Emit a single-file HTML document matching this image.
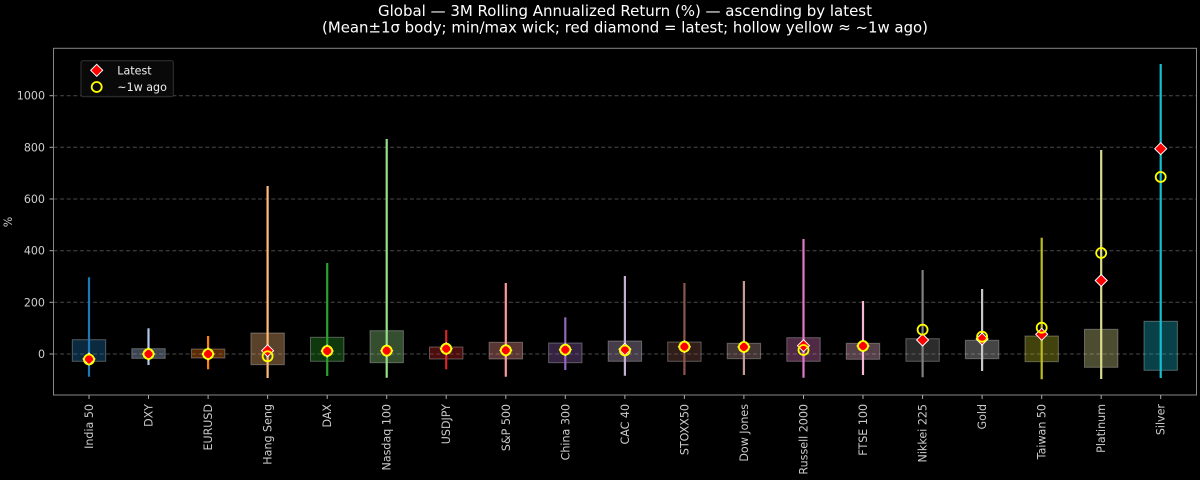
<!DOCTYPE html>
<html><head><meta charset="utf-8"><style>
html,body{margin:0;padding:0;background:#000;}
svg{display:block;}
text{font-family:"DejaVu Sans","Liberation Sans",sans-serif;}
</style></head><body>
<svg width="1200" height="480" viewBox="0 0 1200 480" xmlns="http://www.w3.org/2000/svg">
<rect width="1200" height="480" fill="#000"/>
<!-- title -->
<text x="625" y="16" text-anchor="middle" font-size="15.5" fill="#fff" textLength="494" lengthAdjust="spacingAndGlyphs">Global — 3M Rolling Annualized Return (%) — ascending by latest</text>
<text x="625" y="32.5" text-anchor="middle" font-size="15.5" fill="#fff" textLength="606" lengthAdjust="spacingAndGlyphs">(Mean±1σ body; min/max wick; red diamond = latest; hollow yellow ≈ ~1w ago)</text>
<!-- grid -->
<g stroke="#4a4a4a" stroke-width="1" stroke-dasharray="4,2.6">
<line x1="53.5" x2="1196.5" y1="354" y2="354"/>
<line x1="53.5" x2="1196.5" y1="302.3" y2="302.3"/>
<line x1="53.5" x2="1196.5" y1="250.7" y2="250.7"/>
<line x1="53.5" x2="1196.5" y1="199" y2="199"/>
<line x1="53.5" x2="1196.5" y1="147.3" y2="147.3"/>
<line x1="53.5" x2="1196.5" y1="95.7" y2="95.7"/>
</g>
<!-- y ticks -->
<g stroke="#aaa" stroke-width="1">
<line x1="49.5" x2="53.5" y1="354" y2="354"/>
<line x1="49.5" x2="53.5" y1="302.3" y2="302.3"/>
<line x1="49.5" x2="53.5" y1="250.7" y2="250.7"/>
<line x1="49.5" x2="53.5" y1="199" y2="199"/>
<line x1="49.5" x2="53.5" y1="147.3" y2="147.3"/>
<line x1="49.5" x2="53.5" y1="95.7" y2="95.7"/>
</g>
<g font-size="11.1" fill="#ccc" text-anchor="end">
<text x="45" y="358">0</text>
<text x="45" y="306.3">200</text>
<text x="45" y="254.7">400</text>
<text x="45" y="203">600</text>
<text x="45" y="151.3">800</text>
<text x="45" y="99.7">1000</text>
</g>
<text transform="translate(12,222) rotate(-90)" font-size="11.1" fill="#ccc" text-anchor="middle">%</text>

<!-- boxes -->
<g stroke="rgba(255,255,255,0.3)" stroke-width="1">
<rect x="72.3" y="339.7" width="33.4" height="21.6" fill="#1f77b4" fill-opacity="0.35"/>
<rect x="131.8" y="348.7" width="33.4" height="9.6" fill="#aec7e8" fill-opacity="0.35"/>
<rect x="191.4" y="349" width="33.4" height="9" fill="#ff7f0e" fill-opacity="0.35"/>
<rect x="250.9" y="333" width="33.4" height="31.7" fill="#ffbb78" fill-opacity="0.35"/>
<rect x="310.5" y="337.3" width="33.4" height="24" fill="#2ca02c" fill-opacity="0.35"/>
<rect x="370" y="330.7" width="33.4" height="32" fill="#98df8a" fill-opacity="0.35"/>
<rect x="429.5" y="347" width="33.4" height="12" fill="#d62728" fill-opacity="0.35"/>
<rect x="489.1" y="342.3" width="33.4" height="16.7" fill="#ff9896" fill-opacity="0.35"/>
<rect x="548.6" y="343" width="33.4" height="19.7" fill="#9467bd" fill-opacity="0.35"/>
<rect x="608.2" y="341" width="33.4" height="20.3" fill="#c5b0d5" fill-opacity="0.35"/>
<rect x="667.7" y="342" width="33.4" height="19.3" fill="#8c564b" fill-opacity="0.35"/>
<rect x="727.2" y="343.3" width="33.4" height="15.4" fill="#c49c94" fill-opacity="0.35"/>
<rect x="786.8" y="337.7" width="33.4" height="23.6" fill="#e377c2" fill-opacity="0.35"/>
<rect x="846.3" y="343.3" width="33.4" height="16" fill="#f7b6d2" fill-opacity="0.35"/>
<rect x="905.9" y="338.7" width="33.4" height="22.6" fill="#7f7f7f" fill-opacity="0.35"/>
<rect x="965.4" y="340.3" width="33.4" height="18.4" fill="#c7c7c7" fill-opacity="0.35"/>
<rect x="1025" y="336" width="33.4" height="25.7" fill="#bcbd22" fill-opacity="0.35"/>
<rect x="1084.5" y="329.3" width="33.4" height="38" fill="#dbdb8d" fill-opacity="0.35"/>
<rect x="1144" y="321.3" width="33.4" height="49" fill="#17becf" fill-opacity="0.35"/>
</g>
<!-- wicks -->
<g stroke-width="2.2">
<line x1="89" x2="89" y1="277.3" y2="376.7" stroke="#1f77b4"/>
<line x1="148.5" x2="148.5" y1="328.3" y2="365" stroke="#aec7e8"/>
<line x1="208.1" x2="208.1" y1="336" y2="369.3" stroke="#ff7f0e"/>
<line x1="267.6" x2="267.6" y1="186" y2="378" stroke="#ffbb78"/>
<line x1="327.2" x2="327.2" y1="263" y2="376" stroke="#2ca02c"/>
<line x1="386.7" x2="386.7" y1="139" y2="377.7" stroke="#98df8a"/>
<line x1="446.2" x2="446.2" y1="330" y2="369.3" stroke="#d62728"/>
<line x1="505.8" x2="505.8" y1="283" y2="376.7" stroke="#ff9896"/>
<line x1="565.3" x2="565.3" y1="317.3" y2="370" stroke="#9467bd"/>
<line x1="624.9" x2="624.9" y1="276" y2="375.7" stroke="#c5b0d5"/>
<line x1="684.4" x2="684.4" y1="283" y2="375" stroke="#8c564b"/>
<line x1="743.9" x2="743.9" y1="281" y2="375" stroke="#c49c94"/>
<line x1="803.5" x2="803.5" y1="239" y2="377.7" stroke="#e377c2"/>
<line x1="863" x2="863" y1="301" y2="375" stroke="#f7b6d2"/>
<line x1="922.6" x2="922.6" y1="270" y2="377.3" stroke="#7f7f7f"/>
<line x1="982.1" x2="982.1" y1="289" y2="371" stroke="#c7c7c7"/>
<line x1="1041.7" x2="1041.7" y1="237.7" y2="379.3" stroke="#bcbd22"/>
<line x1="1101.2" x2="1101.2" y1="150" y2="379" stroke="#dbdb8d"/>
<line x1="1160.7" x2="1160.7" y1="64" y2="378" stroke="#17becf"/>
</g>
<!-- latest diamonds -->
<defs>
<path id="dm" d="M0,-6 L6,0 L0,6 L-6,0 Z" fill="#ff0000" stroke="#fff" stroke-width="1"/>
<circle id="ci" r="5" fill="none" stroke="#ffff00" stroke-width="1.8"/>
</defs>
<use href="#dm" x="89" y="359"/>
<use href="#dm" x="148.5" y="354"/>
<use href="#dm" x="208.1" y="354"/>
<use href="#dm" x="267.6" y="350.7"/>
<use href="#dm" x="327.2" y="351"/>
<use href="#dm" x="386.7" y="350.7"/>
<use href="#dm" x="446.2" y="348.7"/>
<use href="#dm" x="505.8" y="350.3"/>
<use href="#dm" x="565.3" y="349.7"/>
<use href="#dm" x="624.9" y="349.3"/>
<use href="#dm" x="684.4" y="346.7"/>
<use href="#dm" x="743.9" y="347"/>
<use href="#dm" x="803.5" y="345.7"/>
<use href="#dm" x="863" y="346"/>
<use href="#dm" x="922.6" y="340"/>
<use href="#dm" x="982.1" y="339"/>
<use href="#dm" x="1041.7" y="334.3"/>
<use href="#dm" x="1101.2" y="280.5"/>
<use href="#dm" x="1160.7" y="148.7"/>
<!-- prev circles -->
<use href="#ci" x="89" y="359.5"/>
<use href="#ci" x="148.5" y="354"/>
<use href="#ci" x="208.1" y="354"/>
<use href="#ci" x="267.6" y="356.3"/>
<use href="#ci" x="327.2" y="351"/>
<use href="#ci" x="386.7" y="350.7"/>
<use href="#ci" x="446.2" y="348.7"/>
<use href="#ci" x="505.8" y="350.3"/>
<use href="#ci" x="565.3" y="349.7"/>
<use href="#ci" x="624.9" y="350.5"/>
<use href="#ci" x="684.4" y="346.7"/>
<use href="#ci" x="743.9" y="347"/>
<use href="#ci" x="803.5" y="350"/>
<use href="#ci" x="863" y="346"/>
<use href="#ci" x="922.6" y="329.7"/>
<use href="#ci" x="982.1" y="336.7"/>
<use href="#ci" x="1041.7" y="327.7"/>
<use href="#ci" x="1101.2" y="253"/>
<use href="#ci" x="1160.7" y="177"/>

<!-- axes frame -->
<rect x="53.5" y="48.3" width="1143" height="346.7" fill="none" stroke="#888" stroke-width="1"/>
<!-- x ticks -->
<g stroke="#aaa" stroke-width="1">
<line x1="89" x2="89" y1="395" y2="399"/>
<line x1="148.5" x2="148.5" y1="395" y2="399"/>
<line x1="208.1" x2="208.1" y1="395" y2="399"/>
<line x1="267.6" x2="267.6" y1="395" y2="399"/>
<line x1="327.2" x2="327.2" y1="395" y2="399"/>
<line x1="386.7" x2="386.7" y1="395" y2="399"/>
<line x1="446.2" x2="446.2" y1="395" y2="399"/>
<line x1="505.8" x2="505.8" y1="395" y2="399"/>
<line x1="565.3" x2="565.3" y1="395" y2="399"/>
<line x1="624.9" x2="624.9" y1="395" y2="399"/>
<line x1="684.4" x2="684.4" y1="395" y2="399"/>
<line x1="743.9" x2="743.9" y1="395" y2="399"/>
<line x1="803.5" x2="803.5" y1="395" y2="399"/>
<line x1="863" x2="863" y1="395" y2="399"/>
<line x1="922.6" x2="922.6" y1="395" y2="399"/>
<line x1="982.1" x2="982.1" y1="395" y2="399"/>
<line x1="1041.7" x2="1041.7" y1="395" y2="399"/>
<line x1="1101.2" x2="1101.2" y1="395" y2="399"/>
<line x1="1160.7" x2="1160.7" y1="395" y2="399"/>
</g>
<g font-size="11.1" fill="#ccc" text-anchor="end">
<text transform="translate(93,404) rotate(-90)">India 50</text>
<text transform="translate(152.5,404) rotate(-90)">DXY</text>
<text transform="translate(212.1,404) rotate(-90)">EURUSD</text>
<text transform="translate(271.6,404) rotate(-90)">Hang Seng</text>
<text transform="translate(331.2,404) rotate(-90)">DAX</text>
<text transform="translate(390.7,404) rotate(-90)">Nasdaq 100</text>
<text transform="translate(450.2,404) rotate(-90)">USDJPY</text>
<text transform="translate(509.8,404) rotate(-90)">S&amp;P 500</text>
<text transform="translate(569.3,404) rotate(-90)">China 300</text>
<text transform="translate(628.9,404) rotate(-90)">CAC 40</text>
<text transform="translate(688.4,404) rotate(-90)">STOXX50</text>
<text transform="translate(747.9,404) rotate(-90)">Dow Jones</text>
<text transform="translate(807.5,404) rotate(-90)">Russell 2000</text>
<text transform="translate(867,404) rotate(-90)">FTSE 100</text>
<text transform="translate(926.6,404) rotate(-90)">Nikkei 225</text>
<text transform="translate(986.1,404) rotate(-90)">Gold</text>
<text transform="translate(1045.7,404) rotate(-90)">Taiwan 50</text>
<text transform="translate(1105.2,404) rotate(-90)">Platinum</text>
<text transform="translate(1164.7,404) rotate(-90)">Silver</text>
</g>

<!-- legend -->
<rect x="81" y="60.7" width="92.3" height="36" rx="2" fill="#0a0a0a" fill-opacity="0.9" stroke="#333" stroke-width="1"/>
<use href="#dm" x="96.7" y="70.3"/>
<use href="#ci" x="96.7" y="87"/>
<text x="117.3" y="74.3" font-size="11.1" fill="#eee">Latest</text>
<text x="117.3" y="91" font-size="11.1" fill="#eee">~1w ago</text>
</svg>
</body></html>
